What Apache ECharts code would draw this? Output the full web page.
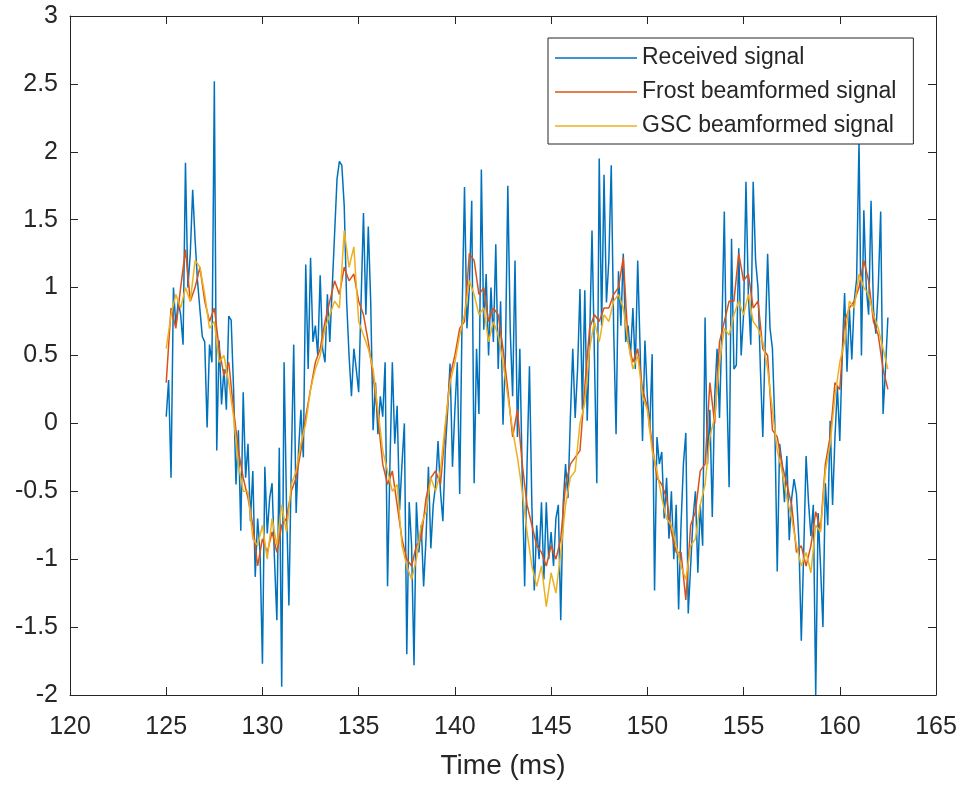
<!DOCTYPE html>
<html>
<head>
<meta charset="utf-8">
<script src="https://cdn.jsdelivr.net/npm/echarts@6/dist/echarts.min.js"></script>
<style>
html,body{margin:0;padding:0;background:#fff;}
#chart{width:961px;height:785px;}
</style>
</head>
<body>
<div id="chart"></div>
<script>
// sampling grid (ms)
const t0 = 125;
const dtReceived = 0.125;
const dtBeam = 0.25;

const seriesNames = ['Received signal', 'Frost beamformed signal', 'GSC beamformed signal'];

// Received signal, one row per millisecond (125 ... 162.5 ms)
const received = [
  0.05, 0.32, -0.40, 1.00, 0.72, 0.90, 0.80, 0.58,
  1.92, 1.00, 1.25, 1.72, 1.35, 1.05, 0.84, 0.64,
  0.60, -0.03, 0.58, 0.45, 2.52, -0.20, 0.61, 0.14,
  0.40, 0.10, 0.79, 0.76, 0.25, -0.45, -0.05, -0.79,
  0.23, -0.40, -0.15, -0.72, -0.35, -1.13, -0.70, -0.95,
  -1.77, -0.32, -0.81, -0.55, -0.44, -1.00, -1.45, -0.18,
  -1.94, 0.45, -0.60, -1.34, -0.30, 0.58, -0.66, -0.20,
  0.10, -0.25, 1.17, 0.40, 1.22, 0.60, 0.72, 0.50,
  1.09, 0.55, 0.45, 0.95, 0.60, 1.00, 1.40, 1.80,
  1.93, 1.90, 1.60, 0.90, 0.50, 0.20, 0.55, 0.40,
  0.23, 0.90, 1.55, 0.80, 1.45, 0.90, -0.05, 0.30,
  -0.08, 0.20, 0.05, 0.45, -1.20, -0.30, 0.45, -0.15,
  0.13, -0.64, -0.30, 0.00, -1.70, -0.58, -0.90, -1.78,
  -0.58, -0.95, -0.75, -1.20, -0.85, -0.32, -0.92, -0.60,
  -0.45, -0.13, -0.50, -0.72, -0.20, 0.10, 0.44, -0.32,
  0.10, 0.45, -0.52, 0.80, 1.74, 0.70, 1.00, 1.64,
  -0.44, 0.55, 0.07, 1.87, 0.69, 1.10, 0.50, 1.00,
  0.60, 1.32, 0.40, 0.90, -0.01, 0.50, 1.75, 0.69,
  0.20, 1.20, -0.10, 0.55, -0.40, -1.20, -0.30, 0.42,
  -0.60, -1.23, -0.75, -1.00, -0.58, -1.15, -0.58, -1.00,
  -0.80, -1.05, -0.70, -0.60, -1.45, -0.60, -0.30, -0.55,
  0.04, 0.55, 0.04, 0.40, 0.99, 0.10, 0.98, 0.02,
  0.60, 1.42, 0.50, -0.44, 1.95, 0.72, 1.83, 0.89,
  1.20, 1.90, 0.70, -0.08, 1.12, 0.72, 1.25, 0.60,
  0.72, 0.50, 0.85, 0.40, 1.20, 0.55, -0.13, 0.61,
  0.20, -0.05, 0.51, -1.23, -0.10, -0.30, -0.21, -0.70,
  -0.40, -0.85, -0.50, -1.00, -0.60, -1.37, -0.75, -0.30,
  -0.07, -1.40, -1.05, -0.70, -0.50, -1.10, -0.60, -0.90,
  0.78, -0.30, 0.10, -0.69, 0.20, 0.55, 0.04, 0.70,
  1.56, 0.30, -0.47, 1.36, 0.40, 0.43, 1.29, 0.50,
  0.80, 1.78, 0.95, 0.58, 1.78, 1.20, 1.00, 0.40,
  -0.10, 0.60, 1.25, 0.70, 0.55, 0.00, -1.09, -0.15,
  -0.30, -0.58, -0.24, -0.86, -0.55, -0.41, -0.52, -0.86,
  -1.60, -0.95, -0.24, -0.58, -0.83, -0.60, -2.00, -0.66,
  -1.05, -1.50, -0.44, -0.75, 0.02, -0.60, -0.10, 0.27,
  -0.13, 0.50, 0.96, 0.38, 0.84, 0.47, 0.90, 1.06,
  2.08, 0.50, 1.57, 1.00, 0.80, 1.64, 0.84, 0.66,
  1.00, 1.56, 0.07, 0.40, 0.78
];

// Frost beamformed signal, one row per millisecond
const frost = [
  0.30, 0.85, 0.70, 1.00,
  1.28, 0.90, 1.00, 1.15,
  0.90, 0.75, 0.85, 0.55,
  0.35, 0.45, 0.10, -0.20,
  -0.40, -0.55, -0.75, -1.05,
  -0.85, -0.95, -0.80, -0.95,
  -0.75, -0.70, -0.50, -0.40,
  -0.20, 0.05, 0.25, 0.45,
  0.55, 0.75, 0.90, 1.05,
  0.95, 1.15, 1.05, 1.10,
  0.90, 0.80, 0.60, 0.35,
  0.05, -0.30, -0.45, -0.35,
  -0.60, -0.85, -1.00, -1.05,
  -0.90, -0.85, -0.55, -0.40,
  -0.35, -0.45, -0.05, 0.35,
  0.50, 0.70, 0.75, 1.25,
  1.20, 0.95, 1.00, 0.75,
  0.85, 0.80, 0.55, 0.25,
  -0.10, 0.10, -0.30, -0.60,
  -0.75, -0.90, -0.95, -1.05,
  -0.90, -1.00, -0.85, -0.45,
  -0.30, -0.25, -0.20, 0.27,
  0.70, 0.80, 0.75, 0.85,
  0.85, 0.95, 1.00, 1.22,
  0.60, 0.45, 0.55, 0.25,
  0.12, -0.15, -0.40, -0.45,
  -0.55, -0.80, -0.95, -0.95,
  -1.30, -0.75, -0.65, -0.35,
  -0.30, 0.30, 0.00, 0.60,
  0.75, 0.90, 0.90, 1.25,
  1.05, 1.10, 0.85, 0.90,
  0.55, 0.50, -0.05, -0.10,
  -0.30, -0.45, -0.60, -0.95,
  -0.90, -1.05, -0.90, -0.65,
  -0.78, -0.30, -0.10, 0.30,
  0.25, 0.75, 0.85, 0.90,
  1.00, 1.20, 1.05, 0.75,
  0.65, 0.40, 0.25
];

// GSC beamformed signal, one row per millisecond
const gsc = [
  0.55, 0.80, 0.95, 0.85,
  1.00, 0.90, 1.20, 1.15,
  0.95, 0.70, 0.75, 0.45,
  0.50, 0.30, 0.05, -0.30,
  -0.50, -0.50, -0.85, -0.90,
  -0.75, -1.00, -0.70, -0.90,
  -0.60, -0.80, -0.45, -0.35,
  -0.15, 0.00, 0.25, 0.40,
  0.50, 0.70, 0.80, 0.90,
  0.85, 1.42, 1.15, 1.30,
  0.75, 0.65, 0.55, 0.40,
  0.10, -0.20, -0.35, -0.50,
  -0.45, -0.90, -1.05, -1.15,
  -1.00, -0.75, -0.65, -0.40,
  -0.50, -0.35, 0.00, 0.30,
  0.45, 0.65, 0.80, 1.05,
  0.95, 0.80, 0.85, 0.60,
  0.75, 0.65, 0.45, 0.20,
  -0.05, -0.25, -0.50, -0.80,
  -1.05, -1.20, -1.05, -1.35,
  -1.10, -1.25, -0.95, -0.60,
  -0.40, -0.35, 0.00, 0.15,
  0.55, 0.75, 0.60, 0.80,
  0.75, 0.90, 0.95, 0.85,
  0.60, 0.40, 0.50, 0.20,
  0.10, -0.20, -0.35, -0.55,
  -0.70, -0.75, -0.90, -1.05,
  -1.15, -0.90, -0.85, -0.60,
  -0.45, -0.10, 0.05, 0.45,
  0.70, 0.65, 0.80, 0.90,
  0.80, 0.95, 0.75, 0.70,
  0.60, 0.40, 0.10, -0.20,
  -0.35, -0.55, -0.70, -0.90,
  -1.05, -0.95, -1.10, -0.75,
  -0.80, -0.35, -0.15, 0.20,
  0.45, 0.60, 0.90, 0.85,
  1.10, 1.00, 0.95, 0.80,
  0.70, 0.55, 0.40
];

const xMin = 120, xMax = 165, xStep = 5;
const yMin = -2, yMax = 3, yStep = 0.5;
const colors = ['#0072BD', '#D95319', '#EDB120'];

function toPairs(vals, dt) {
  return vals.map(function (v, i) { return [t0 + i * dt, v]; });
}

const FONT = "'Liberation Sans', Arial, Helvetica, sans-serif";
const INK = '#262626';

const chart = echarts.init(document.getElementById('chart'), null, {renderer: 'canvas'});

const axisLine = {show: true, onZero: false, lineStyle: {color: INK, width: 1}};
const axisTick = {show: true, inside: true, length: 8, lineStyle: {color: INK, width: 1}};

chart.setOption({
  animation: false,
  backgroundColor: '#ffffff',
  textStyle: {fontFamily: FONT},
  grid: {left: 70, right: 25, top: 16, bottom: 84, containLabel: false},
  legend: {
    data: seriesNames,
    orient: 'vertical',
    left: 548,
    top: 38,
    padding: [8, 17, 6, 7],
    itemGap: 10,
    itemWidth: 82,
    itemHeight: 1.6,
    icon: 'rect',
    borderColor: INK,
    borderWidth: 1,
    borderRadius: 0,
    backgroundColor: '#ffffff',
    textStyle: {fontFamily: FONT, fontSize: 23, color: INK, lineHeight: 24}
  },
  xAxis: [
    {
      type: 'value', position: 'bottom', min: xMin, max: xMax, interval: xStep,
      axisLine: axisLine, axisTick: axisTick, splitLine: {show: false},
      axisLabel: {fontFamily: FONT, fontSize: 25, color: INK, margin: 20},
      name: 'Time (ms)', nameLocation: 'middle', nameGap: 57,
      nameTextStyle: {fontFamily: FONT, fontSize: 28, color: INK}
    },
    {
      type: 'value', position: 'top', min: xMin, max: xMax, interval: xStep,
      axisLine: axisLine, axisTick: axisTick, splitLine: {show: false},
      axisLabel: {show: false}
    }
  ],
  yAxis: [
    {
      type: 'value', position: 'left', min: yMin, max: yMax, interval: yStep,
      axisLine: axisLine, axisTick: axisTick, splitLine: {show: false},
      axisLabel: {fontFamily: FONT, fontSize: 25, color: INK, margin: 12}
    },
    {
      type: 'value', position: 'right', min: yMin, max: yMax, interval: yStep,
      axisLine: axisLine, axisTick: axisTick, splitLine: {show: false},
      axisLabel: {show: false}
    }
  ],
  series: [
    {name: seriesNames[0], type: 'line', data: toPairs(received, dtReceived), symbol: 'none',
     lineStyle: {color: colors[0], width: 1.5}, itemStyle: {color: colors[0]}, z: 2},
    {name: seriesNames[1], type: 'line', data: toPairs(frost, dtBeam), symbol: 'none',
     lineStyle: {color: colors[1], width: 1.5}, itemStyle: {color: colors[1]}, z: 3},
    {name: seriesNames[2], type: 'line', data: toPairs(gsc, dtBeam), symbol: 'none',
     lineStyle: {color: colors[2], width: 1.5}, itemStyle: {color: colors[2]}, z: 4}
  ]
});
</script>
</body>
</html>
